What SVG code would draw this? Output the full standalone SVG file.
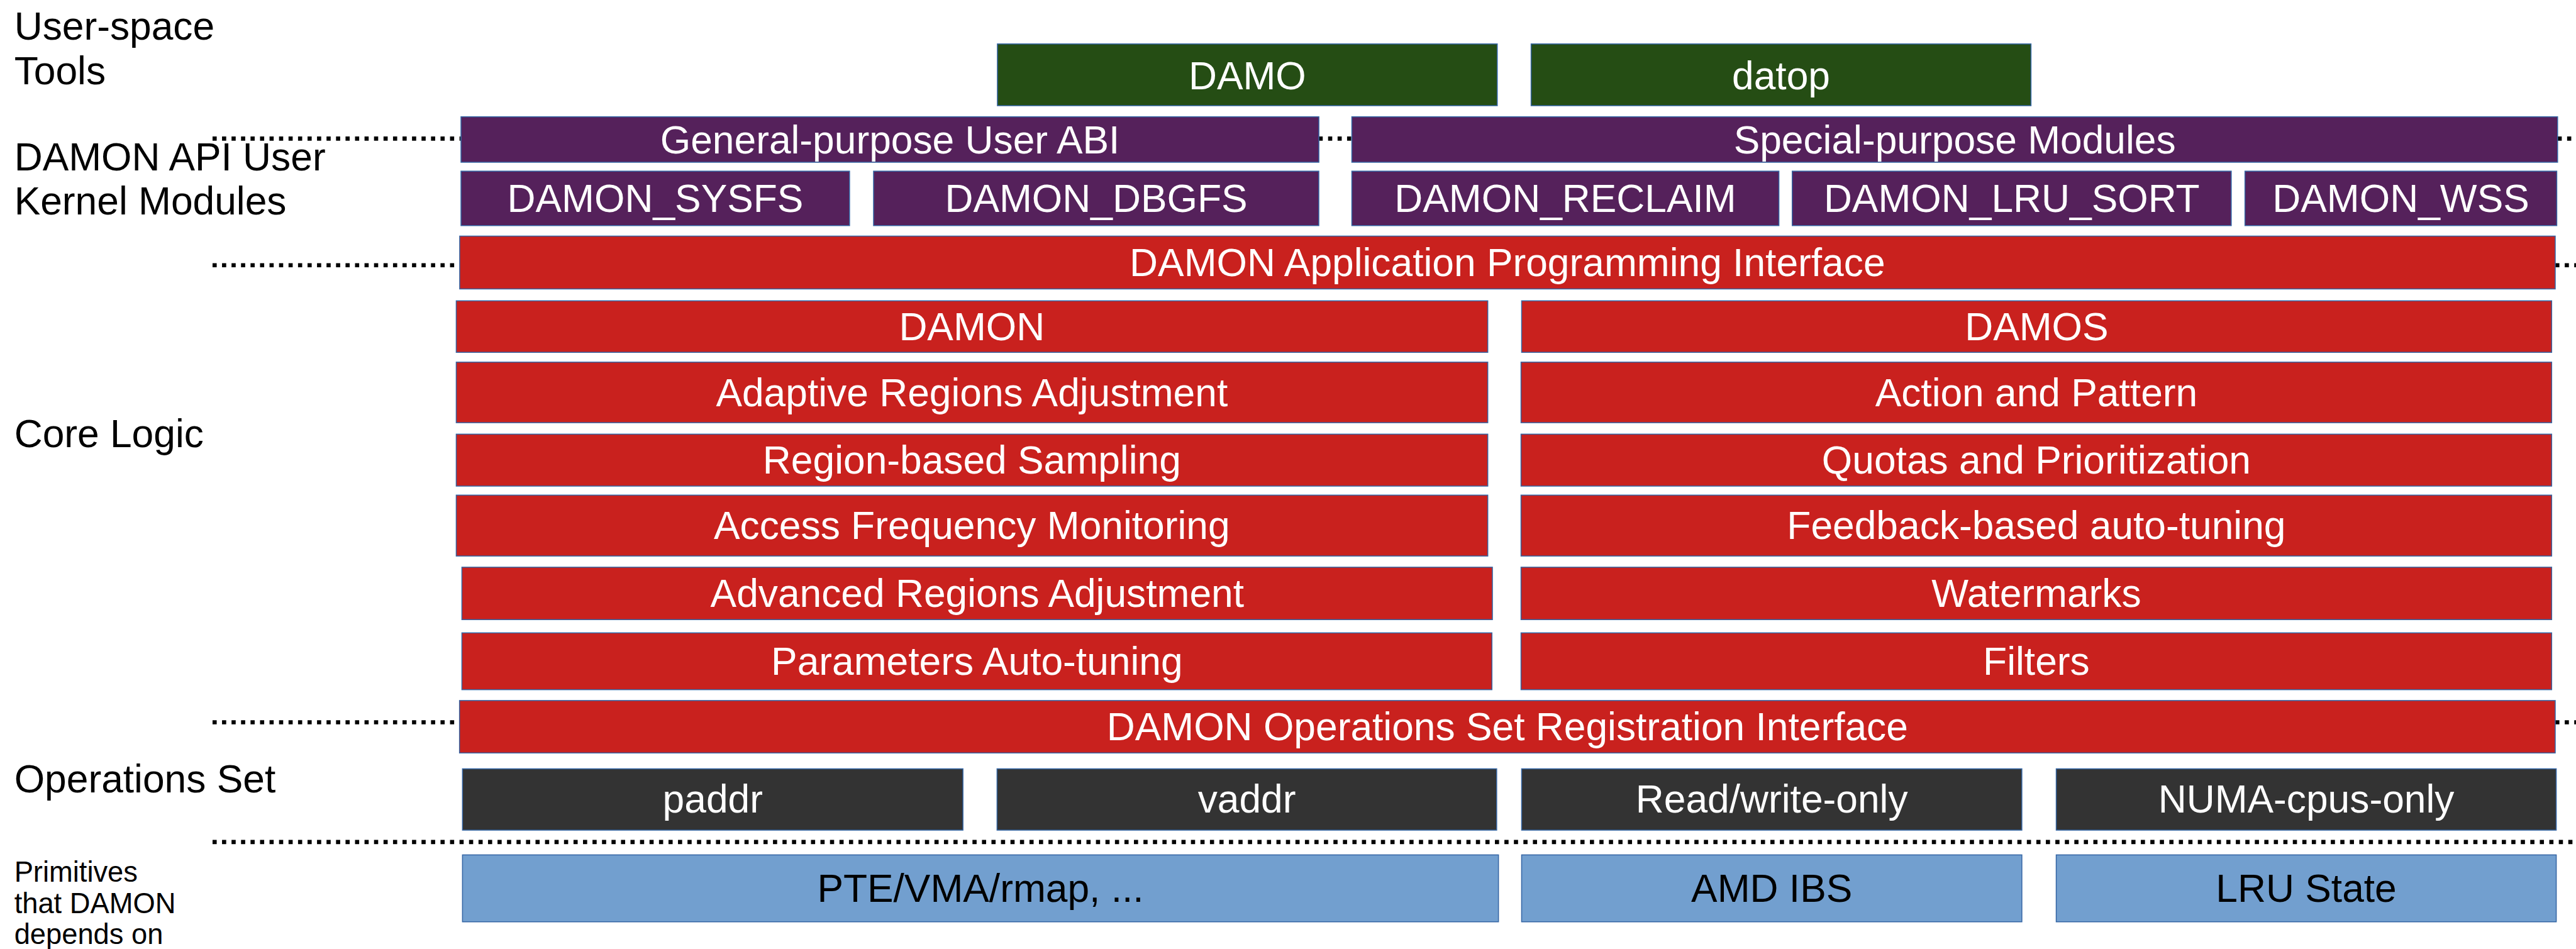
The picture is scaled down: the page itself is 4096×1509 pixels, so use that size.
<svg xmlns="http://www.w3.org/2000/svg" width="4096" height="1509" viewBox="0 0 4096 1509">
<style>
.b{stroke:#3465a4;stroke-width:1.6}
.g{fill:#254d14}.p{fill:#55215b}.r{fill:#c9211e}.k{fill:#333333}.u{fill:#729fcf}
text{font-family:"Liberation Sans",Arial,sans-serif;font-size:66px}
.w{fill:#ffffff;text-anchor:middle}
.d{fill:#000000;text-anchor:middle}
.l{fill:#000000}
.s{font-size:48px}
.dot{stroke:#000;stroke-width:7;stroke-dasharray:7 9;fill:none}
</style>
<rect width="4096" height="1509" fill="#ffffff"/>
<g transform="scale(0.944)">
<g id="labels">
<text class="l" x="24" y="67">User-space</text>
<text class="l" x="24" y="142">Tools</text>
<text class="l" x="24" y="287">DAMON API User</text>
<text class="l" x="24" y="361">Kernel Modules</text>
<text class="l" x="24" y="753">Core Logic</text>
<text class="l" x="24" y="1335">Operations Set</text>
<text class="l s" x="24" y="1485">Primitives</text>
<text class="l s" x="24" y="1538">that DAMON</text>
<text class="l s" x="24" y="1590">depends on</text>
</g>
<g id="connectors">
<path class="dot" d="M358 233.5H776M2221 233.5H2277M4308 233.5H4339"/>
<path class="dot" d="M358 446.7H774M4304 446.7H4339"/>
<path class="dot" d="M358 1216.7H774M4304 1216.7H4339"/>
<path class="dot" d="M358 1418.3H4339"/>
</g>
<g id="damo"><rect class="g b" x="1680" y="74" width="842" height="104"/><text class="w" x="2101" y="150">DAMO</text></g>
<g id="datop"><rect class="g b" x="2579" y="74" width="842" height="104"/><text class="w" x="3000" y="150">datop</text></g>
<g id="general-abi"><rect class="p b" x="776.5" y="196.7" width="1445" height="76.6"/><text class="w" x="1499" y="258">General-purpose User ABI</text></g>
<g id="special-modules"><rect class="p b" x="2277" y="196.7" width="2031" height="76.6"/><text class="w" x="3292.5" y="258">Special-purpose Modules</text></g>
<g id="damon-sysfs"><rect class="p b" x="776.5" y="288.3" width="654.5" height="91.7"/><text class="w" x="1103.8" y="357">DAMON_SYSFS</text></g>
<g id="damon-dbgfs"><rect class="p b" x="1471.4" y="288.3" width="750" height="91.7"/><text class="w" x="1846.4" y="357">DAMON_DBGFS</text></g>
<g id="damon-reclaim"><rect class="p b" x="2277" y="288.3" width="719.4" height="91.7"/><text class="w" x="2636.7" y="357">DAMON_RECLAIM</text></g>
<g id="damon-lru-sort"><rect class="p b" x="3018.8" y="288.3" width="739.5" height="91.7"/><text class="w" x="3388.5" y="357">DAMON_LRU_SORT</text></g>
<g id="damon-wss"><rect class="p b" x="3781.4" y="288.3" width="525.2" height="91.7"/><text class="w" x="4044" y="357">DAMON_WSS</text></g>
<g id="damon-api"><rect class="r b" x="774.3" y="397.7" width="3529.7" height="89"/><text class="w" x="2539" y="465">DAMON Application Programming Interface</text></g>
<g id="damon"><rect class="r b" x="768.5" y="506.7" width="1737.5" height="86.8"/><text class="w" x="1637" y="573">DAMON</text></g>
<g id="damos"><rect class="r b" x="2563" y="506.7" width="1735" height="86.8"/><text class="w" x="3430.5" y="573">DAMOS</text></g>
<g id="adaptive"><rect class="r b" x="768.5" y="610" width="1737.5" height="102"/><text class="w" x="1637" y="684">Adaptive Regions Adjustment</text></g>
<g id="action"><rect class="r b" x="2562" y="610" width="1736" height="102"/><text class="w" x="3430" y="684">Action and Pattern</text></g>
<g id="region-sampling"><rect class="r b" x="768.5" y="731.3" width="1737.5" height="87.5"/><text class="w" x="1637" y="798">Region-based Sampling</text></g>
<g id="quotas"><rect class="r b" x="2562" y="731.3" width="1736" height="87.5"/><text class="w" x="3430" y="798">Quotas and Prioritization</text></g>
<g id="access-freq"><rect class="r b" x="768.5" y="834" width="1737.5" height="102.6"/><text class="w" x="1637" y="908">Access Frequency Monitoring</text></g>
<g id="feedback"><rect class="r b" x="2562" y="834" width="1736" height="102.6"/><text class="w" x="3430" y="908">Feedback-based auto-tuning</text></g>
<g id="advanced"><rect class="r b" x="778" y="955.4" width="1735.8" height="88.3"/><text class="w" x="1646" y="1022.6">Advanced Regions Adjustment</text></g>
<g id="watermarks"><rect class="r b" x="2562" y="955.4" width="1736" height="88.3"/><text class="w" x="3430" y="1022.6">Watermarks</text></g>
<g id="params"><rect class="r b" x="778" y="1066" width="1735" height="95.7"/><text class="w" x="1645.5" y="1137">Parameters Auto-tuning</text></g>
<g id="filters"><rect class="r b" x="2562" y="1066" width="1736" height="95.7"/><text class="w" x="3430" y="1137">Filters</text></g>
<g id="ops-reg"><rect class="r b" x="774" y="1180" width="3530" height="88.3"/><text class="w" x="2539" y="1247.2">DAMON Operations Set Registration Interface</text></g>
<g id="paddr"><rect class="k b" x="779" y="1295" width="843" height="103.3"/><text class="w" x="1200.5" y="1368.5">paddr</text></g>
<g id="vaddr"><rect class="k b" x="1679.4" y="1295" width="841.6" height="103.3"/><text class="w" x="2100.2" y="1368.5">vaddr</text></g>
<g id="rw-only"><rect class="k b" x="2563" y="1295" width="842.6" height="103.3"/><text class="w" x="2984.3" y="1368.5">Read/write-only</text></g>
<g id="numa"><rect class="k b" x="3463.5" y="1295" width="842.2" height="103.3"/><text class="w" x="3884.6" y="1368.5">NUMA-cpus-only</text></g>
<g id="pte"><rect class="u b" x="779" y="1440" width="1745" height="112.7"/><text class="d" x="1651.5" y="1519.5">PTE/VMA/rmap, ...</text></g>
<g id="amd-ibs"><rect class="u b" x="2563" y="1440" width="842.6" height="112.7"/><text class="d" x="2984.3" y="1519.5">AMD IBS</text></g>
<g id="lru-state"><rect class="u b" x="3463.5" y="1440" width="842.2" height="112.7"/><text class="d" x="3884.6" y="1519.5">LRU State</text></g>
</g>
</svg>
